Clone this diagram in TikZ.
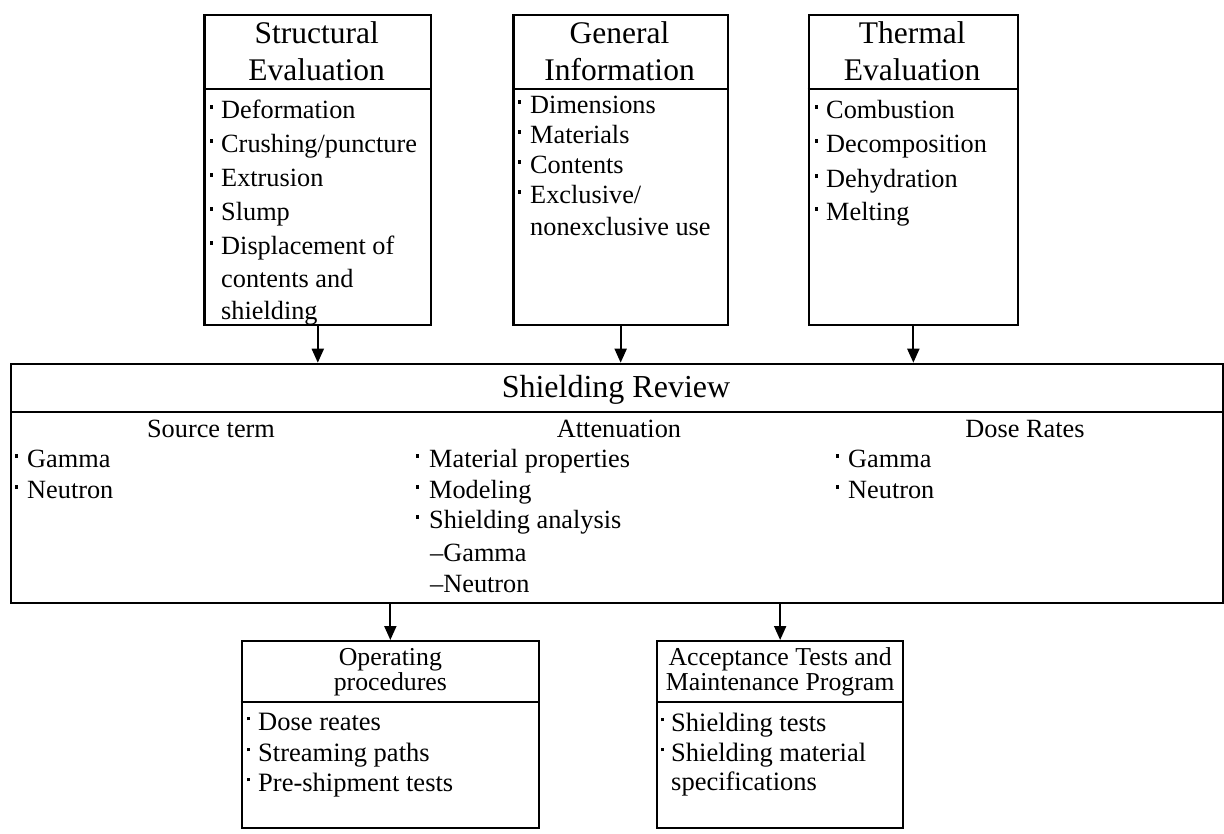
\documentclass[tikz,border=0pt]{standalone}
\usepackage{fontspec}
\setmainfont{Liberation Serif}
\usetikzlibrary{arrows.meta}

% font settings
\newcommand\headfont{\fontsize{31.5}{37}\selectfont}
\newcommand\titlefont{\fontsize{32}{32}\selectfont}
\newcommand\bodyfont{\fontsize{26.3}{26.3}\selectfont}
\newcommand\lowheadfont{\fontsize{25.8}{24.5}\selectfont}
\newcommand\lowbodyfont{\fontsize{26.5}{26.5}\selectfont}
% square bullet followed by the item text
\newcommand\itm[2][11]{\makebox[#1pt][l]{\raisebox{0.36em}{\rule{3.2pt}{3.2pt}}}#2}

\begin{document}
\begin{tikzpicture}[x=1pt,y=-1pt,
  box/.style={draw, line width=2.3pt, rectangle, inner sep=0pt, anchor=north west},
  sep/.style={line width=2.3pt},
  arr/.style={line width=2pt, -{Triangle[length=14pt,width=12pt]}},
  hd/.style={inner sep=0pt, anchor=base, align=center, font=\headfont},
  sub/.style={inner sep=0pt, anchor=base, font=\bodyfont},
  it/.style={inner sep=0pt, anchor=base west, font=\bodyfont},
  lhd/.style={inner sep=0pt, anchor=base, align=center, font=\lowheadfont},
  lit/.style={inner sep=0pt, anchor=base west, font=\lowbodyfont}]
\useasboundingbox (0,0) rectangle (1224,833);

% ---- top row boxes ----
\node[box, minimum width=226.7pt, minimum height=310pt] (se) at (203.3,14) {};
\node[box, minimum width=214.4pt, minimum height=310pt] (gi) at (512.3,14) {};
\node[box, minimum width=209pt, minimum height=310pt] (te) at (807.7,14) {};
\coordinate (dtop) at (0,89);
\draw[sep] (se.west |- dtop) -- (se.east |- dtop);
\draw[sep] (gi.west |- dtop) -- (gi.east |- dtop);
\draw[sep] (te.west |- dtop) -- (te.east |- dtop);

% Structural Evaluation (base anchor = baseline of the last line)
\node[hd] (seh) at (316.7,80) {Structural\\Evaluation};
\node[it] (sa) at (210,118) {\itm{Deformation}};
\node[it] (sb) at (210,152) {\itm{Crushing/puncture}};
\node[it] (sc) at (210,186) {\itm{Extrusion}};
\node[it] (sd) at (210,220) {\itm{Slump}};
\node[it] (sf) at (210,254) {\itm{Displacement of}};
\node[it] (sg) at (221,287) {contents and};
\node[it] (sh) at (221,319) {shielding};

% General Information
\node[hd] (gih) at (619.5,80) {General\\Information};
\node[it] (ga) at (518,113) {\itm[12]{Dimensions}};
\node[it] (gb) at (518,143) {\itm[12]{Materials}};
\node[it] (gc) at (518,173) {\itm[12]{Contents}};
\node[it] (gd) at (518,203) {\itm[12]{Exclusive/}};
\node[it] (ge) at (530,235) {nonexclusive use};

% Thermal Evaluation
\node[hd] (teh) at (912.2,80) {Thermal\\Evaluation};
\node[it] (ta) at (815,118) {\itm{Combustion}};
\node[it] (tb) at (815,152) {\itm{Decomposition}};
\node[it] (tc) at (815,187) {\itm{Dehydration}};
\node[it] (td) at (815,220) {\itm{Melting}};

% ---- shielding review ----
\node[box, minimum width=1212pt, minimum height=239pt] (sr) at (10,362.7) {};
\coordinate (dmid) at (0,411.7);
\draw[sep] (sr.west |- dmid) -- (sr.east |- dmid);
\node[hd, font=\titlefont] (srt) at (616,397) {Shielding Review};

\node[sub] (st) at (211,437) {Source term};
\node[it] (st1) at (15,467) {\itm[12]{Gamma}};
\node[it] (st2) at (15,498) {\itm[12]{Neutron}};

\node[sub] (at) at (619,437) {Attenuation};
\node[it] (at1) at (416,467) {\itm[13]{Material properties}};
\node[it] (at2) at (416,498) {\itm[13]{Modeling}};
\node[it] (at3) at (416,528) {\itm[13]{Shielding analysis}};
\node[it] (at4) at (430,561) {–Gamma};
\node[it] (at5) at (430,592) {–Neutron};

\node[sub] (dr) at (1025,437) {Dose Rates};
\node[it] (dr1) at (836,467) {\itm[12]{Gamma}};
\node[it] (dr2) at (836,498) {\itm[12]{Neutron}};

% ---- bottom row boxes ----
\node[box, minimum width=297pt, minimum height=187pt] (op) at (240.7,640) {};
\node[box, minimum width=246pt, minimum height=187pt] (ac) at (656,640) {};
\coordinate (dlow) at (0,701.7);
\draw[sep] (op.west |- dlow) -- (op.east |- dlow);
\draw[sep] (ac.west |- dlow) -- (ac.east |- dlow);

\coordinate (hb) at (0,690);
\node[lhd] (oph) at (op.north |- hb) {Operating\\procedures};
\node[lit] (oa) at (246.7,730) {\itm[11.3]{Dose reates}};
\node[lit] (ob) at (246.7,761) {\itm[11.3]{Streaming paths}};
\node[lit] (oc) at (246.7,791) {\itm[11.3]{Pre-shipment tests}};

\node[lhd] (ach) at (ac.north |- hb) {Acceptance Tests and\\Maintenance Program};
\node[lit] (aa) at (661,731) {\itm[10]{Shielding tests}};
\node[lit] (ab) at (661,761) {\itm[10]{Shielding material}};
\node[lit] (ad) at (671,790) {specifications};

% ---- connectors ----
\draw[arr] (se.south) -- (se.south |- sr.north);
\draw[arr] (gi.south) -- (gi.south |- sr.north);
\draw[arr] (te.south) -- (te.south |- sr.north);
\draw[arr] (op.north |- sr.south) -- (op.north);
\draw[arr] (ac.north |- sr.south) -- (ac.north);
\end{tikzpicture}
\end{document}
